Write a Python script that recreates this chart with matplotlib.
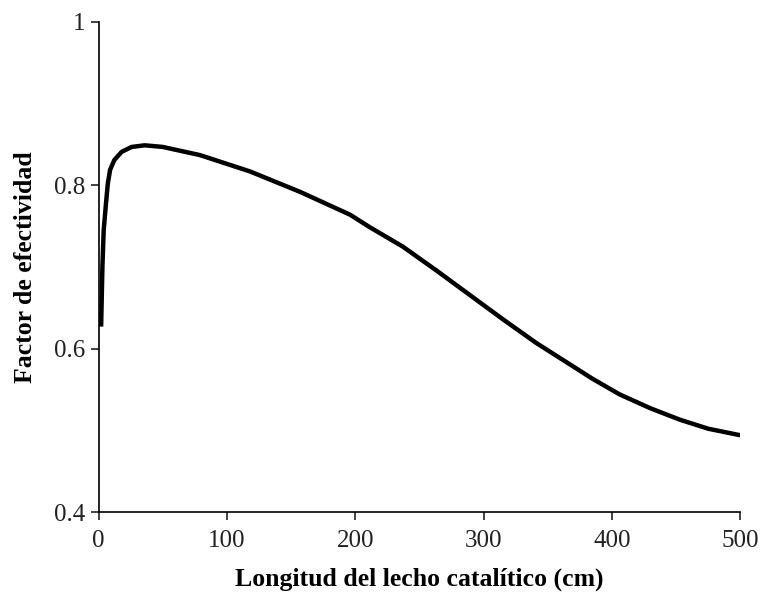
import matplotlib.pyplot as plt

# Datos: factor de efectividad vs longitud del lecho
longitud = [2.0, 3.0, 4.0, 5.8, 7.2, 9, 12.3, 18, 25.8, 36, 50, 79, 118, 157,
            196, 211, 237, 263, 289, 315, 341, 367, 385, 406, 430, 453, 475,
            500]
efectividad = [0.627, 0.700, 0.745, 0.778, 0.802, 0.819, 0.831, 0.841, 0.847,
               0.849, 0.847, 0.837, 0.817, 0.792, 0.764, 0.749, 0.725, 0.696,
               0.666, 0.636, 0.607, 0.581, 0.563, 0.544, 0.527, 0.513, 0.502,
               0.494]

x_ticks = [0, 100, 200, 300, 400, 500]
y_ticks = [0.4, 0.6, 0.8, 1.0]
y_tick_labels = ['0.4', '0.6', '0.8', '1']

plt.rcParams['font.family'] = ['Liberation Serif', 'DejaVu Serif']

fig = plt.figure(figsize=(7.64, 5.94), dpi=100)
ax = fig.add_axes([0.129, 0.138, 0.840, 0.825])

ax.plot(longitud, efectividad, color='black', linewidth=3.2,
        solid_joinstyle='round', solid_capstyle='butt')

ax.set_xlim(0, 500)
ax.set_ylim(0.4, 1.0)
ax.set_xticks(x_ticks)
ax.set_yticks(y_ticks)
ax.set_yticklabels(y_tick_labels)

for lado in ['top', 'right']:
    ax.spines[lado].set_visible(False)
for lado in ['left', 'bottom']:
    ax.spines[lado].set_linewidth(1.2)

ax.tick_params(direction='out', length=6, width=1.2, labelsize=18,
               colors='#222222')
ax.tick_params(axis='x', pad=7)

ax.set_xlabel('Longitud del lecho catalítico (cm)', fontsize=18.5,
              fontweight='bold', labelpad=11)
ax.set_ylabel('Factor de efectividad', fontsize=18.5, fontweight='bold',
              labelpad=12)

fig.savefig('out.png', dpi=100)
